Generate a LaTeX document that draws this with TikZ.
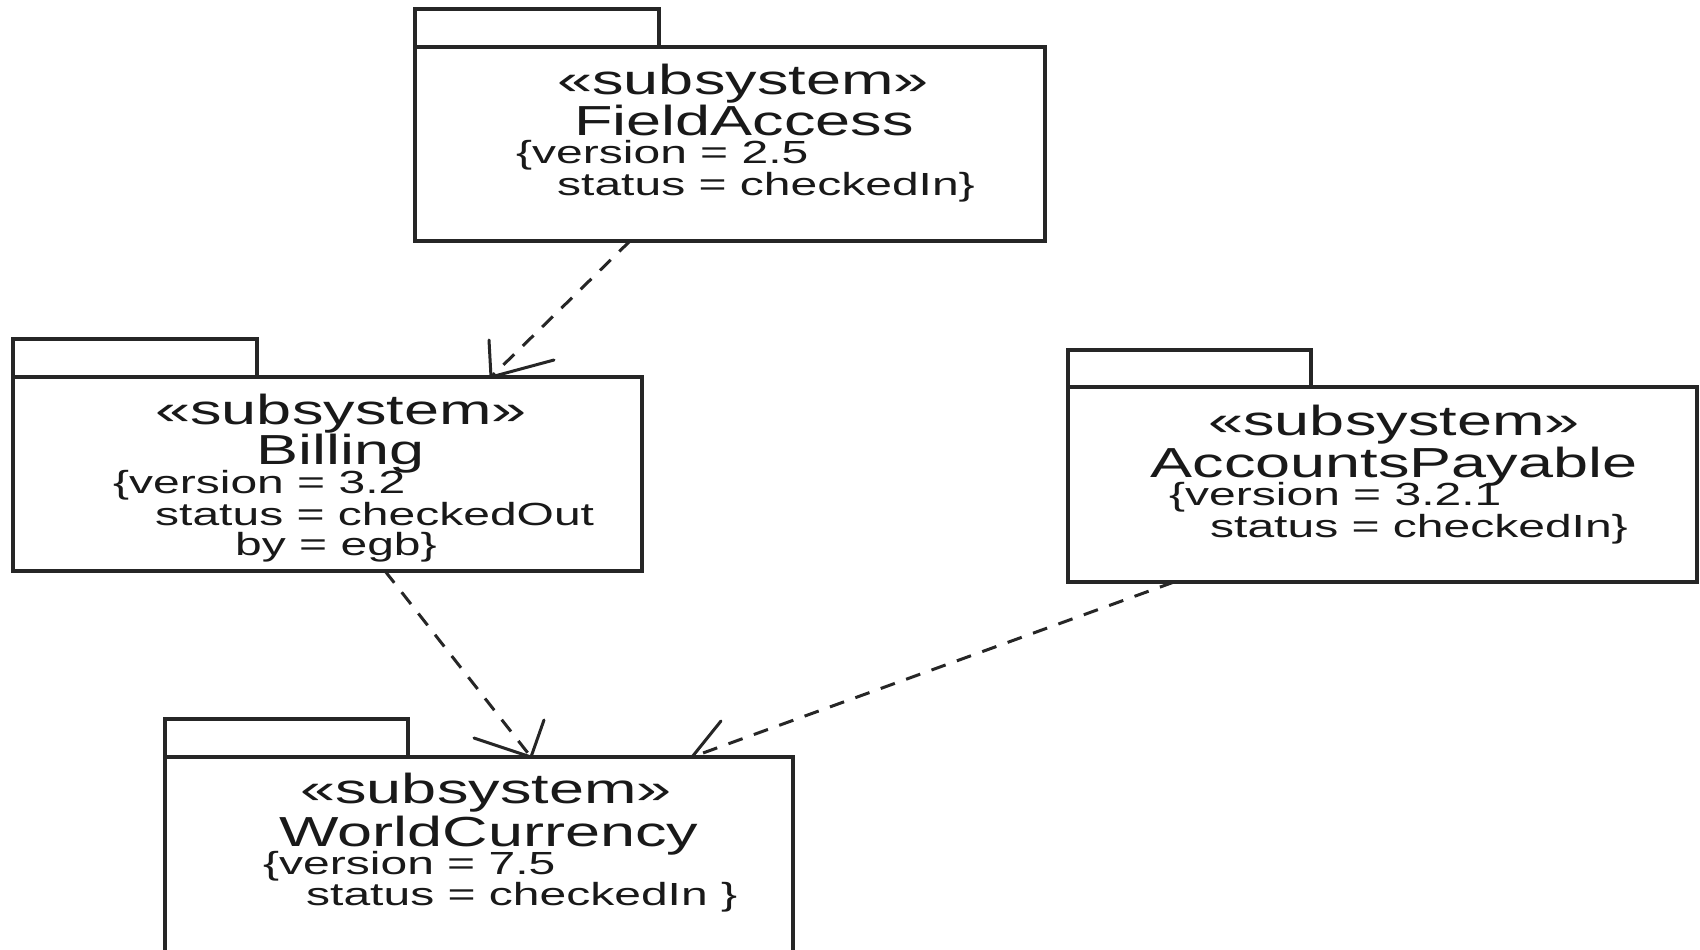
\documentclass[tikz,border=0pt]{standalone}
\usepackage{fontspec}
\setmainfont{Liberation Sans}
\usetikzlibrary{calc}
% text in this diagram is set wide: stretch horizontally by 1.5
\newcommand\hstretch[1]{\scalebox{1.5}[1]{#1}}
\begin{document}
\begin{tikzpicture}[x=1pt,y=-1pt,
  frame/.style={draw=black!85, line width=3.2pt, inner sep=0pt, outer sep=0pt},
  pkgbody/.style={frame, minimum width=630pt, minimum height=194pt, anchor=north west},
  pkgtab/.style={frame, minimum width=244pt, minimum height=38pt, anchor=south west},
  stereo/.style={inner sep=0pt, anchor=base, text=black!90, font=\fontsize{42}{48}\selectfont},
  pkgname/.style={stereo},
  attr/.style={inner sep=0pt, anchor=base west, text=black!90, font=\fontsize{32}{38}\selectfont},
  dep/.style={draw=black!85, line width=3pt, dash pattern=on 15pt off 12pt},
  barb/.style={draw=black!85, line width=3pt, line cap=round}]

\fill[white] (0,0) rectangle (1700,950);
\useasboundingbox (0,0) rectangle (1700,950);

% ---- FieldAccess
\node[pkgbody] (fa) at (415,47) {};
\node[pkgtab] (fa-tab) at (fa.north west) {};
\node[stereo]  (fa-st) at ([shift={(328,47)}]fa.north west) {\hstretch{«subsystem»}};
\node[pkgname] (fa-nm) at ([shift={(329,88)}]fa.north west) {\hstretch{FieldAccess}};
\node[attr] (fa-a1) at ([shift={(101,116)}]fa.north west) {\hstretch{\{version = 2.5}};
\node[attr] (fa-a2) at ([shift={(142,148)}]fa.north west) {\hstretch{status = checkedIn\}}};

% ---- Billing
\node[pkgbody, minimum width=629pt] (bil) at (13,377) {};
\node[pkgtab] (bil-tab) at (bil.north west) {};
\node[stereo]  (bil-st) at ([shift={(328,47)}]bil.north west) {\hstretch{«subsystem»}};
\node[pkgname] (bil-nm) at ([shift={(328,87)}]bil.north west) {\hstretch{Billing}};
\node[attr] (bil-a1) at ([shift={(100,116)}]bil.north west) {\hstretch{\{version = 3.2}};
\node[attr] (bil-a2) at ([shift={(142,148)}]bil.north west) {\hstretch{status = checkedOut}};
\node[attr] (bil-a3) at ([shift={(222,178)}]bil.north west) {\hstretch{by = egb\}}};

% ---- AccountsPayable
\node[pkgbody, minimum width=629pt, minimum height=195pt] (ap) at (1068,387) {};
\node[pkgtab, minimum width=243pt, minimum height=37pt] (ap-tab) at (ap.north west) {};
\node[stereo]  (ap-st) at ([shift={(326,48)}]ap.north west) {\hstretch{«subsystem»}};
\node[pkgname] (ap-nm) at ([shift={(326,90)}]ap.north west) {\hstretch{AccountsPayable}};
\node[attr] (ap-a1) at ([shift={(101,118)}]ap.north west) {\hstretch{\{version = 3.2.1}};
\node[attr] (ap-a2) at ([shift={(142,150)}]ap.north west) {\hstretch{status = checkedIn\}}};

% ---- WorldCurrency (runs past the lower edge)
\node[pkgbody, minimum width=628pt, minimum height=220pt] (wc) at (165,757) {};
\node[pkgtab, minimum width=243pt] (wc-tab) at (wc.north west) {};
\node[stereo]  (wc-st) at ([shift={(321,46)}]wc.north west) {\hstretch{«subsystem»}};
\node[pkgname] (wc-nm) at ([shift={(324,89)}]wc.north west) {\hstretch{WorldCurrency}};
\node[attr] (wc-a1) at ([shift={(98,117)}]wc.north west) {\hstretch{\{version = 7.5}};
\node[attr] (wc-a2) at ([shift={(141,148)}]wc.north west) {\hstretch{status = checkedIn \}}};

% ---- dependencies (dashed, open barbed heads)
\coordinate (t1) at ([xshift=478pt]bil.north west);
\draw[dep] ([xshift=215pt]fa.south west) -- (t1);
\draw[barb] (t1) -- ++(-2,-37) (t1) -- ++(63,-17);

\coordinate (t2) at ([xshift=366pt]wc.north west);
\draw[dep] ([xshift=372pt]bil.south west) -- (t2);
\draw[barb] (t2) -- ++(-57,-19) (t2) -- ++(13,-37);

\coordinate (t3) at ([xshift=527pt]wc.north west);
\draw[dep] ([xshift=106pt]ap.south west) -- (t3);
\draw[barb] (t3) -- ++(29,-36) (t3) -- ++(68,0);
\end{tikzpicture}
\end{document}
